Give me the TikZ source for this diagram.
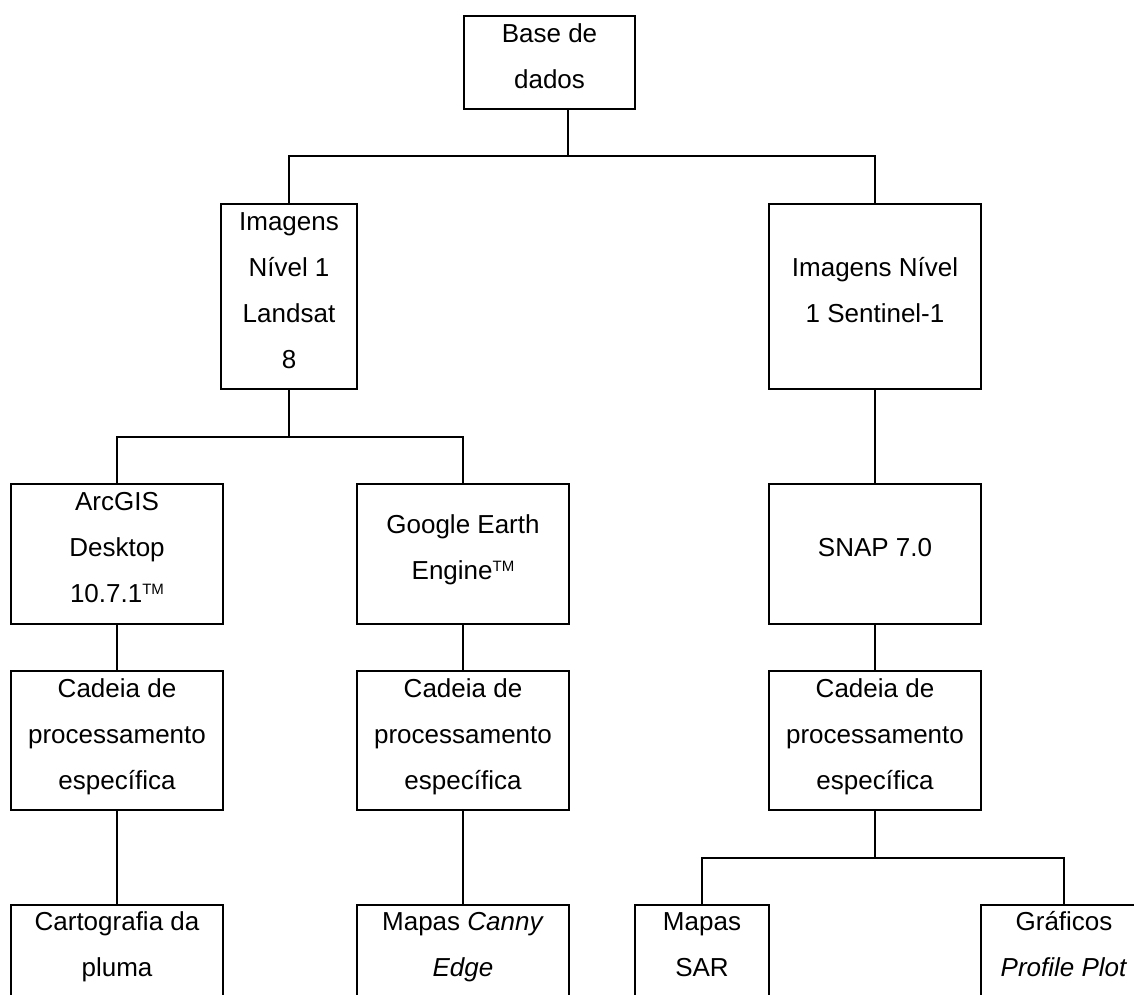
\documentclass[tikz,border=0pt]{standalone}
\usepackage{fontspec}
\setmainfont{Liberation Sans}
\usetikzlibrary{calc}
\newcommand{\tmk}{\raisebox{7.9pt}{\fontsize{15}{15}\selectfont TM}}
\begin{document}
\begin{tikzpicture}[x=1pt,y=-1pt,
  box/.style={draw=black, line width=2pt, inner sep=0pt, outer sep=0pt},
  txt/.style={font=\fontsize{26}{46}\selectfont, align=center, inner sep=0pt},
  conn/.style={draw=black, line width=2pt}]
\useasboundingbox (0,0) rectangle (1134,994);
\fill[white] (0,0) rectangle (1134,994);
\clip (0,0) rectangle (1134,994);

% boxes
\node[box, minimum width=171pt, minimum height=93pt] (base) at (549.5,62.5) {};
\node[box, minimum width=136pt, minimum height=185pt] (landsat) at (289,296.5) {};
\node[box, minimum width=212pt, minimum height=185pt] (sentinel) at (875,296.5) {};
\node[box, minimum width=212pt, minimum height=140pt] (arcgis) at (117,554) {};
\node[box, minimum width=212pt, minimum height=140pt] (google) at (463,554) {};
\node[box, minimum width=212pt, minimum height=140pt] (snap) at (875,554) {};
\node[box, minimum width=212pt, minimum height=139pt] (cadA) at (117,740.5) {};
\node[box, minimum width=212pt, minimum height=139pt] (cadB) at (463,740.5) {};
\node[box, minimum width=212pt, minimum height=139pt] (cadC) at (875,740.5) {};
\node[box, minimum width=212pt, minimum height=92pt] (cart) at (117,951) {};
\node[box, minimum width=212pt, minimum height=92pt] (canny) at (463,951) {};
\node[box, minimum width=134pt, minimum height=92pt] (sar) at (702,951) {};
\node[box, minimum width=166pt, minimum height=92pt] (graf) at (1064,951) {};

% texts
\node[txt] (baseT) at ($(base.center)+(0,-6.5)$) {\strut Base de\\\strut dados};
\node[txt] (landsatT) at ($(landsat.center)+(0,-6.5)$) {\strut Imagens\\\strut Nível 1\\\strut Landsat\\\strut 8};
\node[txt] (sentinelT) at ($(sentinel.center)+(0,-6.5)$) {\strut Imagens Nível\\\strut 1 Sentinel-1};
\node[txt] (arcgisT) at ($(arcgis.center)+(0,-6.5)$) {\strut ArcGIS\\\strut Desktop\\\strut 10.7.1\tmk};
\node[txt] (googleT) at ($(google.center)+(0,-6.5)$) {\strut Google Earth\\\strut Engine\tmk};
\node[txt] (snapT) at ($(snap.center)+(0,-6.5)$) {\strut SNAP 7.0};
\node[txt] (cadAT) at ($(cadA.center)+(0,-6.5)$) {\strut Cadeia de\\\strut processamento\\\strut específica};
\node[txt] (cadBT) at ($(cadB.center)+(0,-6.5)$) {\strut Cadeia de\\\strut processamento\\\strut específica};
\node[txt] (cadCT) at ($(cadC.center)+(0,-6.5)$) {\strut Cadeia de\\\strut processamento\\\strut específica};
\node[txt] (cartT) at ($(cart.center)+(0,-6.5)$) {\strut Cartografia da\\\strut pluma};
\node[txt] (cannyT) at ($(canny.center)+(0,-6.5)$) {\strut Mapas \textit{Canny}\\\strut \textit{Edge}};
\node[txt] (sarT) at ($(sar.center)+(0,-6.5)$) {\strut Mapas\\\strut SAR};
\node[txt] (grafT) at ($(graf.center)+(0,-6.5)$) {\strut Gráficos\\\strut \textit{Profile Plot}};

% junctions
\coordinate (j1) at (568,156);
\coordinate (j2) at (289,437);
\coordinate (j3) at (875,858);

% connectors
\draw[conn] (base.south -| j1) -- (j1);
\draw[conn] (landsat.north) |- (j1) -| (sentinel.north);
\draw[conn] (landsat.south) -- (j2);
\draw[conn] (arcgis.north) |- (j2) -| (google.north);
\draw[conn] (sentinel.south) -- (snap.north);
\draw[conn] (arcgis.south) -- (cadA.north);
\draw[conn] (google.south) -- (cadB.north);
\draw[conn] (snap.south) -- (cadC.north);
\draw[conn] (cadA.south) -- (cart.north);
\draw[conn] (cadB.south) -- (canny.north);
\draw[conn] (cadC.south) -- (j3);
\draw[conn] (sar.north) |- (j3) -| (graf.north);
\end{tikzpicture}
\end{document}
